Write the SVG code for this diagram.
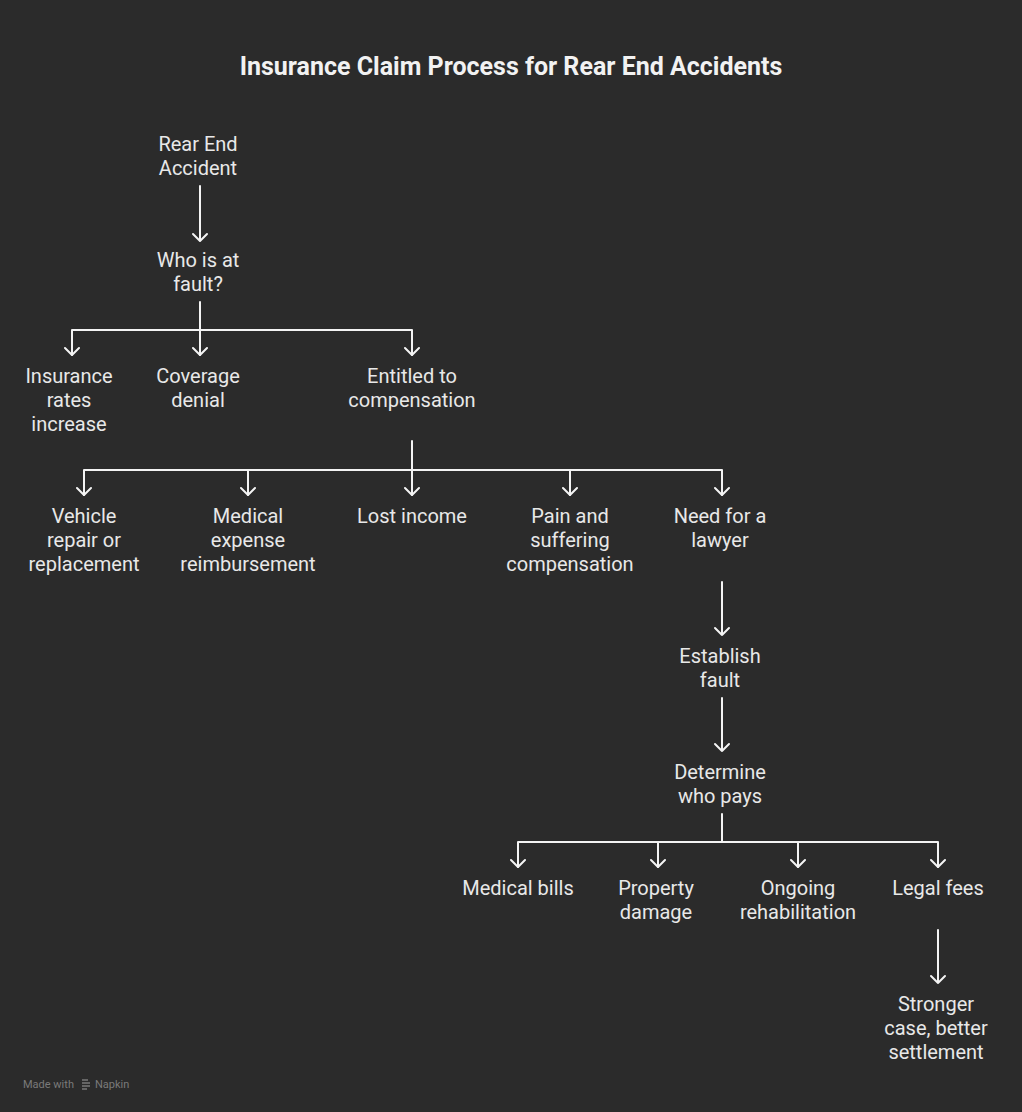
<svg xmlns="http://www.w3.org/2000/svg" width="1022" height="1112" viewBox="0 0 1022 1112">
<defs>
<style>
.bg{fill:#2b2b2b}
.t{font-family:Roboto,"Liberation Sans",sans-serif;font-size:20px;fill:#e8e8e8;text-anchor:middle}
.title{font-family:Roboto,"Liberation Sans",sans-serif;font-size:25px;font-weight:bold;fill:#f2f2f2;text-anchor:middle}
.c{fill:none;stroke:#f4f4f4;stroke-width:2;stroke-linecap:round;stroke-linejoin:round}
.foot{font-family:Roboto,"Liberation Sans",sans-serif;font-size:11px;fill:#7a7a7a}
</style>
</defs>
<rect class="bg" x="0" y="0" width="1022" height="1112"/>
<text class="title" x="511" y="75">Insurance Claim Process for Rear End Accidents</text>

<g id="connectors">
<path class="c" d="M200,186 V240 M193,234 L200,241 L207,234"/>
<path class="c" d="M200,302 V330 M72,355 V330 H412 V355 M200,330 V355"/>
<path class="c" d="M65,348 L72,355 L79,348 M193,348 L200,355 L207,348 M405,348 L412,355 L419,348"/>
<path class="c" d="M412,441 V470 M84,495 V470 H722 V495 M248,470 V495 M412,470 V495 M570,470 V495"/>
<path class="c" d="M77,488 L84,495 L91,488 M241,488 L248,495 L255,488 M405,488 L412,495 L419,488 M563,488 L570,495 L577,488 M715,488 L722,495 L729,488"/>
<path class="c" d="M722,582 V635 M715,628 L722,635 L729,628"/>
<path class="c" d="M722,698 V751 M715,744 L722,751 L729,744"/>
<path class="c" d="M722,814 V842 M518,867 V842 H938 V867 M658,842 V867 M798,842 V867"/>
<path class="c" d="M511,860 L518,867 L525,860 M651,860 L658,867 L665,860 M791,860 L798,867 L805,860 M931,860 L938,867 L945,860"/>
<path class="c" d="M938,930 V983 M931,976 L938,983 L945,976"/>
</g>

<g id="n-rear"><text class="t" x="198" y="151">Rear End</text><text class="t" x="198" y="175">Accident</text></g>
<g id="n-fault"><text class="t" x="198" y="267">Who is at</text><text class="t" x="198" y="291">fault?</text></g>
<g id="n-rates"><text class="t" x="69" y="383">Insurance</text><text class="t" x="69" y="407">rates</text><text class="t" x="69" y="431">increase</text></g>
<g id="n-denial"><text class="t" x="198" y="383">Coverage</text><text class="t" x="198" y="407">denial</text></g>
<g id="n-entitled"><text class="t" x="412" y="383">Entitled to</text><text class="t" x="412" y="407">compensation</text></g>
<g id="n-vehicle"><text class="t" x="84" y="523">Vehicle</text><text class="t" x="84" y="547">repair or</text><text class="t" x="84" y="571">replacement</text></g>
<g id="n-medexp"><text class="t" x="248" y="523">Medical</text><text class="t" x="248" y="547">expense</text><text class="t" x="248" y="571">reimbursement</text></g>
<g id="n-lost"><text class="t" x="412" y="523">Lost income</text></g>
<g id="n-pain"><text class="t" x="570" y="523">Pain and</text><text class="t" x="570" y="547">suffering</text><text class="t" x="570" y="571">compensation</text></g>
<g id="n-lawyer"><text class="t" x="720" y="523">Need for a</text><text class="t" x="720" y="547">lawyer</text></g>
<g id="n-establish"><text class="t" x="720" y="663">Establish</text><text class="t" x="720" y="687">fault</text></g>
<g id="n-determine"><text class="t" x="720" y="779">Determine</text><text class="t" x="720" y="803">who pays</text></g>
<g id="n-medbills"><text class="t" x="518" y="895">Medical bills</text></g>
<g id="n-property"><text class="t" x="656" y="895">Property</text><text class="t" x="656" y="919">damage</text></g>
<g id="n-rehab"><text class="t" x="798" y="895">Ongoing</text><text class="t" x="798" y="919">rehabilitation</text></g>
<g id="n-legal"><text class="t" x="938" y="895">Legal fees</text></g>
<g id="n-stronger"><text class="t" x="936" y="1011">Stronger</text><text class="t" x="936" y="1035">case, better</text><text class="t" x="936" y="1059">settlement</text></g>

<g id="footer">
<text class="foot" x="23" y="1088">Made with</text>
<path d="M82,1080 L88,1080 M82,1083 L90,1083 M82,1086 L90,1086 M82,1089 L87,1089" stroke="#7a7a7a" stroke-width="1.5" fill="none"/>
<text class="foot" x="95" y="1088">Napkin</text>
</g>
</svg>
